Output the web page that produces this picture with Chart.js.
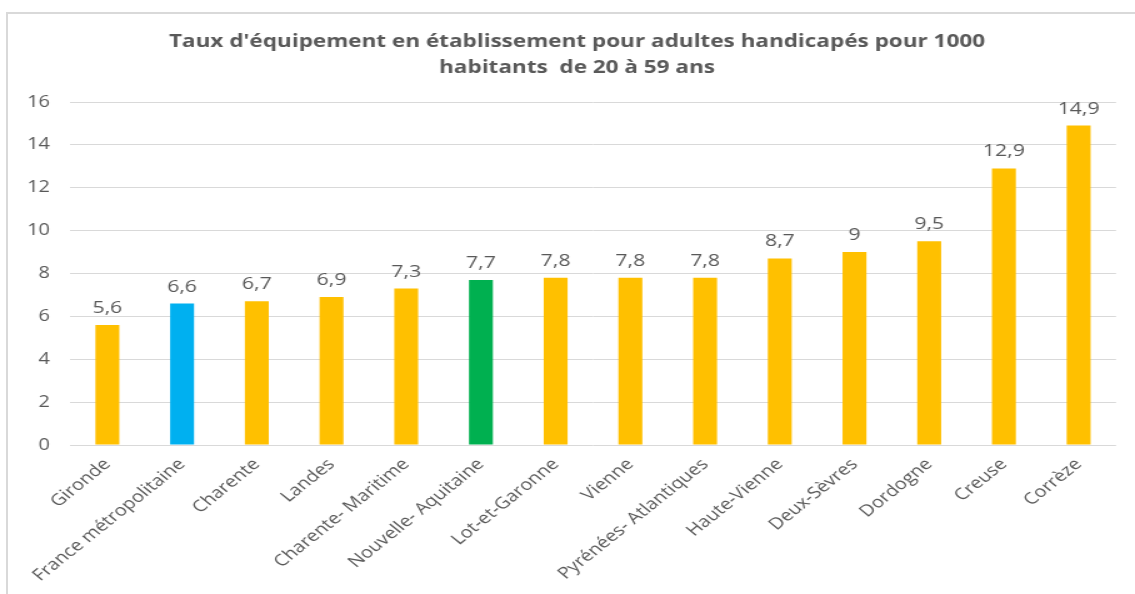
<!DOCTYPE html>
<html>
<head>
<meta charset="utf-8">
<script src="https://cdn.jsdelivr.net/npm/chart.js@4/dist/chart.umd.min.js"></script>
<style>
  html, body { margin: 0; padding: 0; background: #ffffff; width: 1135px; height: 594px; overflow: hidden; }
  #frame { position: absolute; left: 6px; top: 12px; width: 1300px; height: 800px;
           border-left: 2px solid #d9d9d9; border-top: 2px solid #d9d9d9; }
  #c { position: absolute; left: 0; top: 0; transform: scaleX(1.25); transform-origin: 0 0; }
</style>
</head>
<body>
<div id="frame"></div>
<canvas id="c" width="908" height="594"></canvas>
<script>
// ---- data ----
const categories = ["Gironde", "France métropolitaine", "Charente", "Landes", "Charente- Maritime",
  "Nouvelle- Aquitaine", "Lot-et-Garonne", "Vienne", "Pyrénées- Atlantiques", "Haute-Vienne",
  "Deux-Sèvres", "Dordogne", "Creuse", "Corrèze"];
const values = [5.6, 6.6, 6.7, 6.9, 7.3, 7.7, 7.8, 7.8, 7.8, 8.7, 9, 9.5, 12.9, 14.9];
const yTicks = [0, 2, 4, 6, 8, 10, 12, 14, 16];
const titleLines = ["Taux d'équipement en établissement pour adultes handicapés pour 1000",
  "habitants  de 20 à 59 ans"];

// ---- style ----
const baseColor = "#FFC000";
const highlightColors = { "France métropolitaine": "#00B0F0", "Nouvelle- Aquitaine": "#00B050" };
const textColor = "#595959";
const gridColor = "#d9d9d9";

const titlePlugin = {
  id: "titleText",
  afterDraw(chart) {
    const ctx = chart.ctx;
    ctx.save();
    ctx.font = "bold 18px 'Open Sans'";
    ctx.fillStyle = textColor;
    ctx.textAlign = "center";
    ctx.textBaseline = "alphabetic";
    ctx.fillText(titleLines[0], 461.6, 47);
    ctx.fillText(titleLines[1], 461.6, 72.5);
    ctx.restore();
  }
};

const valueLabels = {
  id: "valueLabels",
  afterDatasetsDraw(chart) {
    const ctx = chart.ctx;
    const meta = chart.getDatasetMeta(0);
    ctx.save();
    ctx.font = "17px 'Open Sans'";
    ctx.fillStyle = textColor;
    ctx.textAlign = "center";
    ctx.textBaseline = "alphabetic";
    meta.data.forEach((bar, i) => {
      const txt = String(values[i]).replace(".", ",");
      ctx.fillText(txt, bar.x, bar.y - 12);
    });
    ctx.restore();
  }
};

new Chart(document.getElementById("c"), {
  type: "bar",
  data: {
    labels: categories,
    datasets: [{
      data: values,
      backgroundColor: categories.map(c => highlightColors[c] || baseColor),
      barPercentage: 0.32,
      categoryPercentage: 1.0
    }]
  },
  options: {
    responsive: false,
    animation: false,
    layout: { padding: { left: 6, right: 15.2, top: 102, bottom: 0 } },
    plugins: {
      legend: { display: false },
      tooltip: { enabled: false },
      title: { display: false }
    },
    scales: {
      x: {
        grid: { display: false, drawTicks: false },
        border: { display: false },
        ticks: {
          color: textColor,
          font: { family: "'Open Sans'", size: 16 },
          minRotation: 45, maxRotation: 45,
          autoSkip: false,
          padding: 10
        },
        afterFit(scale) { scale.height = 149; }
      },
      y: {
        min: 0, max: 16,
        afterBuildTicks(scale) { scale.ticks = yTicks.map(v => ({ value: v })); },
        grid: { color: gridColor, lineWidth: 1, drawTicks: false },
        border: { display: false },
        ticks: {
          color: textColor,
          font: { family: "'Open Sans'", size: 16 },
          padding: 16
        },
        afterFit(scale) { scale.width = 50; }
      }
    }
  },
  plugins: [valueLabels, titlePlugin]
});
</script>
</body>
</html>
